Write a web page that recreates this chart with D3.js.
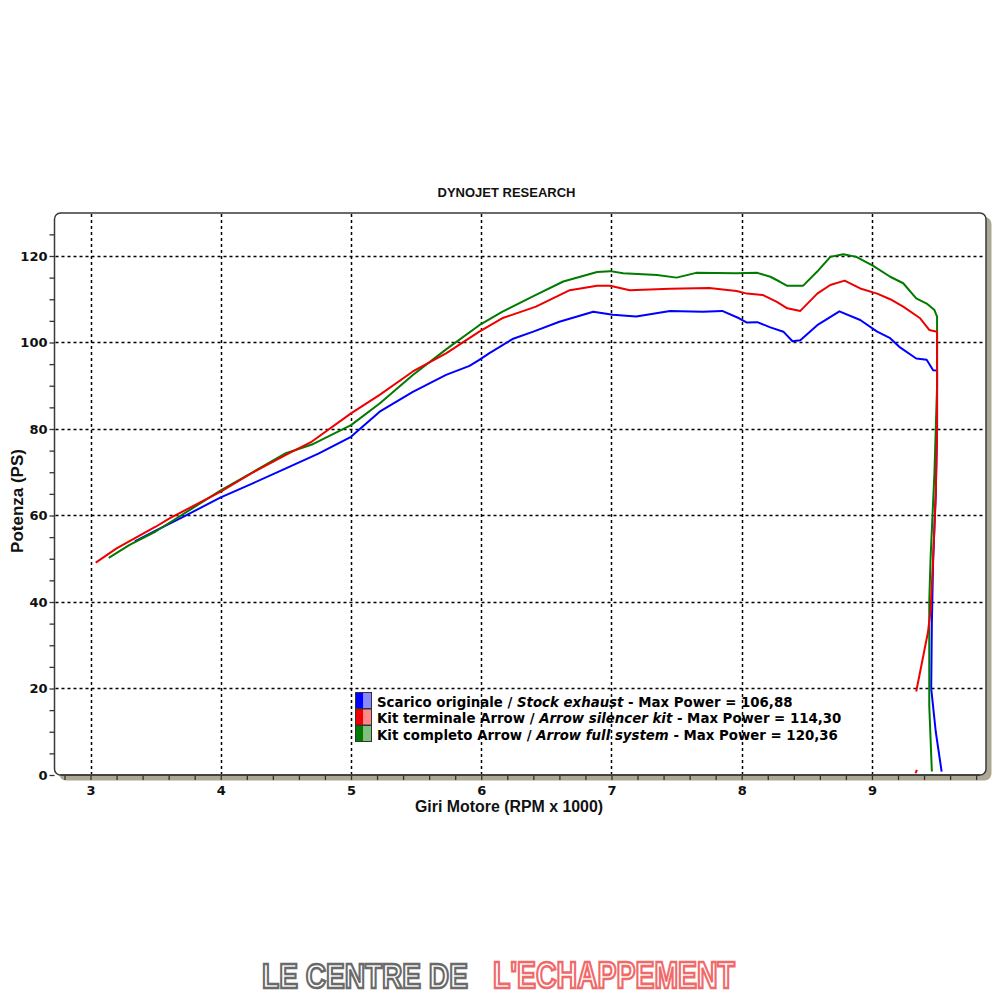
<!DOCTYPE html>
<html><head><meta charset="utf-8">
<script src="https://cdn.jsdelivr.net/npm/d3@7"></script>
<style>html,body{margin:0;padding:0;background:#fff;} svg{display:block;}</style>
</head><body>
<svg id="chart" width="1000" height="1000"></svg>
<script>
// ---- Data (RPM x 1000, Potenza PS) ----
const stockRpm = [3.34,3.5,3.7,4.0,4.25,4.5,4.75,5.0,5.22,5.475,5.73,5.91,5.985,6.06,6.24,6.4,6.6,6.86,7.01,7.19,7.45,7.7,7.85,7.98,8.04,8.12,8.22,8.32,8.39,8.45,8.58,8.75,8.91,9.04,9.14,9.21,9.34,9.42,9.47,9.50,9.50,9.49,9.47,9.46,9.455,9.49,9.535];
const stockPs  = [54,56.5,59.5,64.2,67.5,70.9,74.3,78.2,84.0,88.6,92.5,94.6,96.0,97.5,100.8,102.5,104.8,107.1,106.4,106.0,107.3,107.1,107.3,105.6,104.6,104.7,103.5,102.5,100.3,100.5,104.0,107.2,105.2,102.5,101.0,99.0,96.3,96.0,93.6,93.5,80,65,50,35,20,10,0.8];

const silencerRpm = [3.04,3.2,3.5,3.61,4.0,4.25,4.5,4.7,5.0,5.22,5.475,5.73,5.985,6.16,6.42,6.68,6.89,6.99,7.14,7.45,7.75,7.96,8.04,8.16,8.27,8.35,8.45,8.58,8.68,8.79,8.91,9.04,9.14,9.24,9.37,9.44,9.50,9.50,9.49,9.47,9.45,9.43,9.34];
const silencerPs  = [49.1,52.4,57.4,59.4,65.5,70.0,74.0,77.1,83.6,87.9,93.3,97.5,102.5,105.6,108.3,112.1,113.1,113.1,112.1,112.4,112.6,111.9,111.3,111.0,109.4,107.9,107.3,111.3,113.3,114.3,112.5,111.3,110.0,108.3,105.6,102.9,102.5,80,65,50,38,33,19.3];
const silencerDotRpm = [9.335,9.345];
const silencerDotPs  = [0.4,1.2];

const fullRpm = [3.14,3.3,3.5,4.0,4.5,4.7,5.0,5.22,5.475,5.73,5.985,6.16,6.42,6.63,6.89,6.99,7.09,7.35,7.50,7.65,7.96,8.12,8.22,8.29,8.35,8.47,8.58,8.68,8.78,8.88,9.01,9.14,9.24,9.34,9.42,9.48,9.50,9.50,9.48,9.45,9.44,9.44,9.46];
const fullPs  = [50.2,53.2,56.3,65.8,74.4,76.4,80.9,85.9,92.5,98.4,104.0,107.1,111.0,114.1,116.3,116.5,116.0,115.6,115.0,116.1,116.0,116.1,115.2,114.1,113.1,113.1,116.4,119.8,120.4,119.8,117.7,115.2,113.7,110.2,109.0,107.5,106.0,90,70,50,40,16,0.8];

const xTicks = d3.range(14, 50).map(i => i / 5);   // minor every 0.2
const xGrid = [3,4,5,6,7,8,9];
const yTicks = d3.range(0, 130, 5);
const yGrid = [20,40,60,80,100,120];

const seriesNames = ["Scarico originale / ", "Kit terminale Arrow / ", "Kit completo Arrow / "];
const seriesItalic = ["Stock exhaust", "Arrow silencer kit", "Arrow full system"];
const seriesMax = ["106,88", "114,30", "120,36"];
const seriesColors = ["#0000ff", "#ee0000", "#007a00"];
const seriesLight = ["#8a8aff", "#ff8a8a", "#7fc07f"];

const titleText = "DYNOJET RESEARCH";
const xLabel = "Giri Motore (RPM x 1000)";
const yLabel = "Potenza (PS)";
const logoGray = "LE CENTRE DE";
const logoRed = "L'ECHAPPEMENT";

// ---- Scales ----
const L = 54.5, R = 986, T = 213, B = 775;
const x = d3.scaleLinear().domain([2.7234, 9.8757]).range([L, R]);
const y = d3.scaleLinear().domain([0, 129.94]).range([B, T]);

const svg = d3.select("#chart");

// frame with bevel shadow
svg.append("rect").attr("x", L + 4.5).attr("y", T + 4).attr("width", R - L + 1).attr("height", B - T + 1.5)
  .attr("rx", 7).attr("fill", "#aca894");
svg.append("rect").attr("x", L).attr("y", T).attr("width", R - L).attr("height", B - T)
  .attr("rx", 6).attr("fill", "#fff").attr("stroke", "#3a3a3a").attr("stroke-width", 1.5);

// grid
const grid = svg.append("g").attr("stroke", "#000").attr("stroke-width", 1.5).attr("stroke-dasharray", "3,3");
grid.selectAll("line.v").data(xGrid).join("line").attr("class", "v")
  .attr("x1", d => Math.round(x(d)) + 0.5).attr("x2", d => Math.round(x(d)) + 0.5)
  .attr("y1", T + 1).attr("y2", B - 1);
grid.selectAll("line.h").data(yGrid).join("line").attr("class", "h")
  .attr("x1", L + 1).attr("x2", R - 1)
  .attr("y1", d => Math.round(y(d)) + 0.5).attr("y2", d => Math.round(y(d)) + 0.5);

// axes
const isInt = d => Math.abs(d - Math.round(d)) < 1e-9;
const yAxis = d3.axisLeft(y).tickValues(yTicks).tickSize(5).tickPadding(2)
  .tickFormat(d => d % 20 === 0 ? d : "");
const gy = svg.append("g").attr("transform", `translate(${L},0)`).call(yAxis);
gy.select(".domain").remove();
gy.selectAll(".tick line").attr("stroke", "#333").attr("stroke-width", 1.3);
gy.selectAll("text").attr("font-family", "DejaVu Sans").attr("font-weight", "bold").attr("font-size", 13).attr("fill", "#111");

const xAxis = d3.axisBottom(x).tickValues(xTicks).tickSize(5).tickPadding(6)
  .tickFormat(d => isInt(d) ? Math.round(d) : "");
const gx = svg.append("g").attr("transform", `translate(0,${B})`).call(xAxis);
gx.select(".domain").remove();
gx.selectAll(".tick line").attr("stroke", "#333").attr("stroke-width", 1.3);
gx.selectAll("text").attr("font-family", "DejaVu Sans").attr("font-weight", "bold").attr("font-size", 13).attr("fill", "#111");
svg.append("line").attr("x1", L + 6).attr("x2", R - 6).attr("y1", B).attr("y2", B).attr("stroke", "#3a3a3a").attr("stroke-width", 1.5);

// curves
const line = d3.line().x(d => x(d[0])).y(d => y(d[1])).curve(d3.curveLinear);
const series = [
  d3.zip(stockRpm, stockPs),
  d3.zip(fullRpm, fullPs),
  d3.zip(silencerRpm, silencerPs),
  d3.zip(silencerDotRpm, silencerDotPs)
];
const colorsOrder = [seriesColors[0], seriesColors[2], seriesColors[1], seriesColors[1]];
svg.append("g").selectAll("path").data(series).join("path")
  .attr("d", line).attr("fill", "none")
  .attr("stroke", (d, i) => colorsOrder[i]).attr("stroke-width", 2)
  .attr("stroke-linejoin", "round");

// title
svg.append("text").attr("x", 506.5).attr("y", 197).attr("text-anchor", "middle")
  .attr("font-family", "Liberation Sans, Arial").attr("font-weight", "bold").attr("font-size", 13)
  .attr("fill", "#111").text(titleText);

// axis labels
svg.append("text").attr("transform", "translate(23,501) rotate(-90)").attr("text-anchor", "middle")
  .attr("font-family", "Liberation Sans, Arial").attr("font-weight", "bold").attr("font-size", 17)
  .attr("fill", "#111").text(yLabel);
svg.append("text").attr("x", 415).attr("y", 812)
  .attr("font-family", "Liberation Sans, Arial").attr("font-weight", "bold").attr("font-size", 16)
  .attr("textLength", 188).attr("lengthAdjust", "spacingAndGlyphs")
  .attr("fill", "#111").text(xLabel);

// legend
const lg = svg.append("g");
const rowTop = [692.5, 709, 725.5];
const baselines = [706.5, 723, 739.5];
const texts = [];
seriesNames.forEach((name, i) => {
  lg.append("rect").attr("x", 355.5).attr("y", rowTop[i]).attr("width", 8).attr("height", 16).attr("fill", seriesColors[i]);
  lg.append("rect").attr("x", 363.5).attr("y", rowTop[i]).attr("width", 8).attr("height", 16).attr("fill", seriesLight[i]);
  lg.append("rect").attr("x", 355.5).attr("y", rowTop[i]).attr("width", 16).attr("height", 16)
    .attr("fill", "none").attr("stroke", "#333").attr("stroke-width", 1);
  const t = lg.append("text").attr("x", 377).attr("y", baselines[i])
    .attr("font-family", "DejaVu Sans").attr("font-weight", "bold").attr("font-size", 13).attr("fill", "#000");
  t.append("tspan").text(name);
  t.append("tspan").attr("font-style", "italic").text(seriesItalic[i]);
  t.append("tspan").text(" - Max Power = " + seriesMax[i]);
  texts.push(t);
});
const w = texts[1].node().getComputedTextLength();
const fs = 13 * 465 / w;
texts.forEach(t => t.attr("font-size", fs));

// logo (scaled horizontally via transform)
function logoText(str, x0, width, color) {
  const g = svg.append("g");
  const t = g.append("text").attr("x", 0).attr("y", 0)
    .attr("font-family", "Liberation Sans, Arial").attr("font-weight", "bold")
    .attr("font-size", 36).attr("fill", "#fff").attr("stroke", color).attr("stroke-width", 2.6)
    .text(str);
  const nw = t.node().getComputedTextLength();
  g.attr("transform", `translate(${x0},988) scale(${width / nw},1)`);
}
logoText(logoGray, 262, 206, "#6a6a6a");
logoText(logoRed, 493, 242, "#f06a6a");
</script>
</body></html>
